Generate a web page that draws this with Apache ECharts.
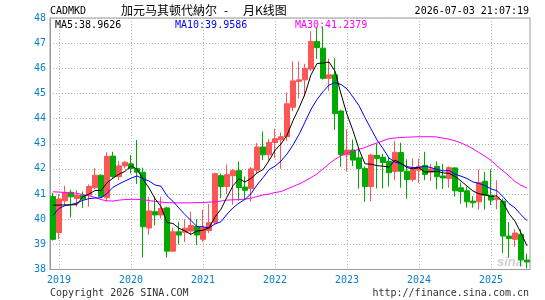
<!DOCTYPE html>
<html><head><meta charset="utf-8">
<script src="https://cdn.jsdelivr.net/npm/echarts@6/dist/echarts.min.js"></script>
<style>html,body{margin:0;padding:0;background:#fff}#c{width:545px;height:300px}</style>
</head><body><div id="c"></div>
<script>
// Monthly categories: Dec 2018 .. Jul 2025 (80 months)
const startYear = 2018, startMonth = 12, monthCount = 80;
const categories = [];
for (let k = 0; k < monthCount; k++) {
  const m0 = startMonth - 1 + k;
  const y = startYear + Math.floor(m0 / 12);
  const m = (m0 % 12) + 1;
  categories.push(y + '-' + (m < 10 ? '0' + m : '' + m));
}
// OHLC
const opens  = [40.9,39.47,40.73,41.07,40.82,40.95,40.96,41.25,41.75,40.85,42.51,41.69,42.12,42.2,42.02,41.87,39.65,40.3,40.17,40.45,38.73,39.5,39.48,39.53,39.71,39.2,39.55,39.87,41.73,41.3,41.73,41.93,41.28,41.22,41.95,42.87,42.56,43.05,43.16,43.28,44.45,45.48,45.54,45.97,47.07,46.8,45.6,45.74,44.3,42.56,42.75,42.44,42.02,41.3,42.54,42.46,42.3,41.9,42.65,41.91,41.58,41.95,42.14,41.87,42.1,41.72,41.62,42.04,41.25,41.13,40.72,40.69,41.51,40.95,40.78,40.72,39.33,39.2,39.4,38.38];
const closes = [39.2,40.8,41.07,40.89,40.96,40.8,41.3,41.75,40.9,42.5,41.7,42.12,42.26,42.02,41.87,39.7,40.33,40.17,40.43,38.73,39.5,39.37,39.64,39.75,39.37,39.67,39.86,41.81,41.3,41.77,41.93,41.26,41.15,42.0,42.87,42.56,43.05,43.2,43.28,44.59,45.5,45.54,46.0,47.07,46.82,45.6,45.74,44.2,42.56,42.75,42.35,42.02,41.3,42.55,42.42,42.25,41.85,42.66,41.91,41.58,41.98,42.1,41.78,42.0,41.69,41.64,42.05,41.13,41.1,40.69,40.65,41.46,40.95,40.76,40.85,39.33,39.23,39.45,38.38,38.3];
const lows   = [39.15,39.2,40.55,40.07,40.5,40.45,40.5,41.2,40.85,40.7,41.62,41.55,42.02,41.82,41.4,38.47,39.38,39.75,40.03,38.47,38.7,39.0,39.1,39.35,38.98,39.1,39.45,39.8,40.84,41.0,40.58,40.73,40.77,40.7,41.83,42.35,42.3,42.43,42.0,43.1,44.3,44.8,44.88,45.9,46.37,45.55,45.1,43.55,42.08,41.9,42.11,41.22,40.69,40.72,41.22,41.22,41.3,41.55,41.25,40.81,41.5,41.45,41.55,41.52,41.19,41.2,41.25,40.9,40.62,40.46,40.46,40.38,40.38,40.56,40.4,38.65,38.47,38.9,38.12,38.04];
const highs  = [41.05,41.0,41.33,41.17,41.16,41.1,41.38,42.03,41.78,42.66,42.68,42.32,42.32,42.55,43.15,42.05,40.89,40.9,40.9,40.5,39.67,39.9,40.0,40.3,40.0,40.37,40.6,41.85,41.81,42.17,42.0,42.3,41.7,42.07,43.03,43.49,43.2,43.6,43.45,45.04,46.27,46.27,46.18,47.48,47.65,47.65,46.38,46.4,44.35,43.57,43.17,42.8,42.1,42.6,43.0,42.6,42.45,43.12,43.04,42.38,42.42,42.4,42.68,42.2,42.3,42.2,42.1,42.06,41.46,41.3,40.92,41.98,41.88,41.98,41.55,40.82,39.89,39.6,39.6,38.63];
// Moving averages
const ma5  = [40.56,40.56,40.57,40.57,40.58,40.90,41.00,41.14,41.14,41.45,41.63,41.79,41.90,42.12,41.99,41.59,41.24,40.82,40.50,39.87,39.83,39.64,39.53,39.40,39.53,39.56,39.66,40.09,40.40,40.88,41.33,41.61,41.48,41.62,41.84,41.97,42.33,42.74,42.99,43.34,43.92,44.42,44.98,45.74,46.19,46.21,46.25,45.89,44.98,44.17,43.52,42.78,42.20,42.19,42.13,42.11,42.07,42.35,42.22,42.05,42.00,42.05,41.87,41.89,41.91,41.84,41.83,41.70,41.52,41.32,41.12,41.01,40.97,40.90,40.93,40.67,40.22,39.92,39.45,38.94];
const ma10 = [40.15,40.43,40.54,40.58,40.65,40.75,40.82,40.84,40.85,41.02,41.27,41.40,41.52,41.63,41.72,41.61,41.52,41.36,41.31,40.93,40.71,40.44,40.18,39.95,39.70,39.70,39.65,39.81,39.90,40.20,40.45,40.64,40.79,41.01,41.36,41.65,41.97,42.11,42.31,42.59,42.95,43.37,43.86,44.37,44.76,45.07,45.33,45.43,45.36,45.18,44.86,44.51,44.04,43.59,43.15,42.81,42.43,42.27,42.21,42.09,42.05,42.06,42.11,42.05,41.98,41.92,41.94,41.79,41.71,41.62,41.48,41.42,41.34,41.21,41.13,40.90,40.62,40.45,40.18,39.94];
const ma30 = [41.09,41.08,41.06,41.05,41.03,40.98,40.93,40.87,40.78,40.73,40.72,40.76,40.78,40.79,40.79,40.78,40.74,40.71,40.68,40.66,40.65,40.65,40.65,40.65,40.66,40.66,40.68,40.69,40.72,40.76,40.77,40.78,40.80,40.83,40.90,40.97,41.0,41.06,41.1,41.2,41.3,41.4,41.52,41.65,41.8,42.0,42.2,42.38,42.52,42.62,42.7,42.78,42.85,42.95,43.03,43.12,43.2,43.23,43.25,43.26,43.27,43.28,43.28,43.28,43.27,43.22,43.18,43.12,43.03,42.93,42.8,42.65,42.5,42.34,42.12,41.92,41.72,41.5,41.35,41.24];
const yTicks = [38, 48, 1];
const legendTexts = ['MA5:38.9626', 'MA10:39.9586', 'MA30:41.2379'];

const candleData = opens.map((o, i) => [o, closes[i], lows[i], highs[i]]);
const isJan = (i) => categories[i].slice(5) === '01';
const MONO = '"DejaVu Sans Mono", monospace';
const chart = echarts.init(document.getElementById('c'), null, {renderer: 'canvas'});
chart.setOption({
  animation: false,
  backgroundColor: '#fff',
  grid: {left: 50, right: 15, top: 18, bottom: 30.5, show: true, borderColor: '#9a9a9a', borderWidth: 1},
  xAxis: {
    type: 'category', data: categories, boundaryGap: true,
    axisLine: {lineStyle: {color: '#9a9a9a', width: 1}},
    axisTick: {show: false},
    axisLabel: {interval: (i) => isJan(i), formatter: (v) => v.slice(0, 4), color: '#0a7fd0', fontFamily: MONO, fontSize: 10, margin: 6},
    splitLine: {show: true, interval: (i) => isJan(i), alignWithLabel: true, lineStyle: {color: '#b4b4b4', type: [1, 2], width: 1}}
  },
  yAxis: {
    type: 'value', min: yTicks[0], max: yTicks[1], interval: yTicks[2], scale: true,
    axisLine: {show: true, lineStyle: {color: '#9a9a9a'}},
    axisTick: {show: false},
    axisLabel: {color: '#0a7fd0', fontFamily: MONO, fontSize: 10, margin: 4},
    splitLine: {show: true, lineStyle: {color: '#b4b4b4', type: [1, 2], width: 1}}
  },
  series: [
    {type: 'candlestick', data: candleData, barWidth: 5, z: 2,
      itemStyle: {color: '#ff5555', color0: '#00aa00', borderColor: '#ff5555', borderColor0: '#00aa00', borderWidth: 1}},
    {type: 'line', data: ma30, showSymbol: false, symbol: 'none', z: 3, lineStyle: {color: '#ff00ff', width: 1}},
    {type: 'line', data: ma10, showSymbol: false, symbol: 'none', z: 4, lineStyle: {color: '#0000ff', width: 1}},
    {type: 'line', data: ma5, showSymbol: false, symbol: 'none', z: 5, lineStyle: {color: '#000000', width: 1}}
  ],
  graphic: [
    {type: 'text', style: {text: 'CADMKD', x: 50, y: 11, textVerticalAlign: 'middle', fill: '#000', font: '10px ' + MONO}},
    {type: 'text', style: {text: '加元马其顿代納尔', x: 121, y: 10, textVerticalAlign: 'middle', fill: '#000', font: '12px "Noto Sans CJK SC"'}},
    {type: 'text', style: {text: '-', x: 224, y: 10, textVerticalAlign: 'middle', fill: '#000', font: '12px "Noto Sans CJK SC"'}},
    {type: 'text', style: {text: '月K线图', x: 243, y: 10, textVerticalAlign: 'middle', fill: '#000', font: '12px "Noto Sans CJK SC"'}},
    {type: 'text', style: {text: '2026-07-03 21:07:19', x: 529, y: 11, textAlign: 'right', textVerticalAlign: 'middle', fill: '#000', font: '10px ' + MONO}},
    {type: 'text', z: 10, style: {text: legendTexts[0], x: 55, y: 25, textVerticalAlign: 'middle', fill: '#000', font: '10px ' + MONO}},
    {type: 'text', z: 10, style: {text: legendTexts[1], x: 175, y: 25, textVerticalAlign: 'middle', fill: '#0000ff', font: '10px ' + MONO}},
    {type: 'text', z: 10, style: {text: legendTexts[2], x: 295, y: 25, textVerticalAlign: 'middle', fill: '#ff00ff', font: '10px ' + MONO}},
    {type: 'text', style: {text: 'Copyright 2026 SINA.COM', x: 50, y: 293.5, textVerticalAlign: 'middle', fill: '#333', font: '10px ' + MONO}},
    {type: 'text', style: {text: 'http://finance.sina.com.cn', x: 529, y: 293.5, textAlign: 'right', textVerticalAlign: 'middle', fill: '#333', font: '10px ' + MONO}},
    {type: 'text', z: 1, style: {text: 'sina', x: 497, y: 262, textVerticalAlign: 'middle', fill: 'rgba(170,170,170,0.55)', font: 'italic bold 13px "Liberation Sans"'}}
  ]
});
</script></body></html>
